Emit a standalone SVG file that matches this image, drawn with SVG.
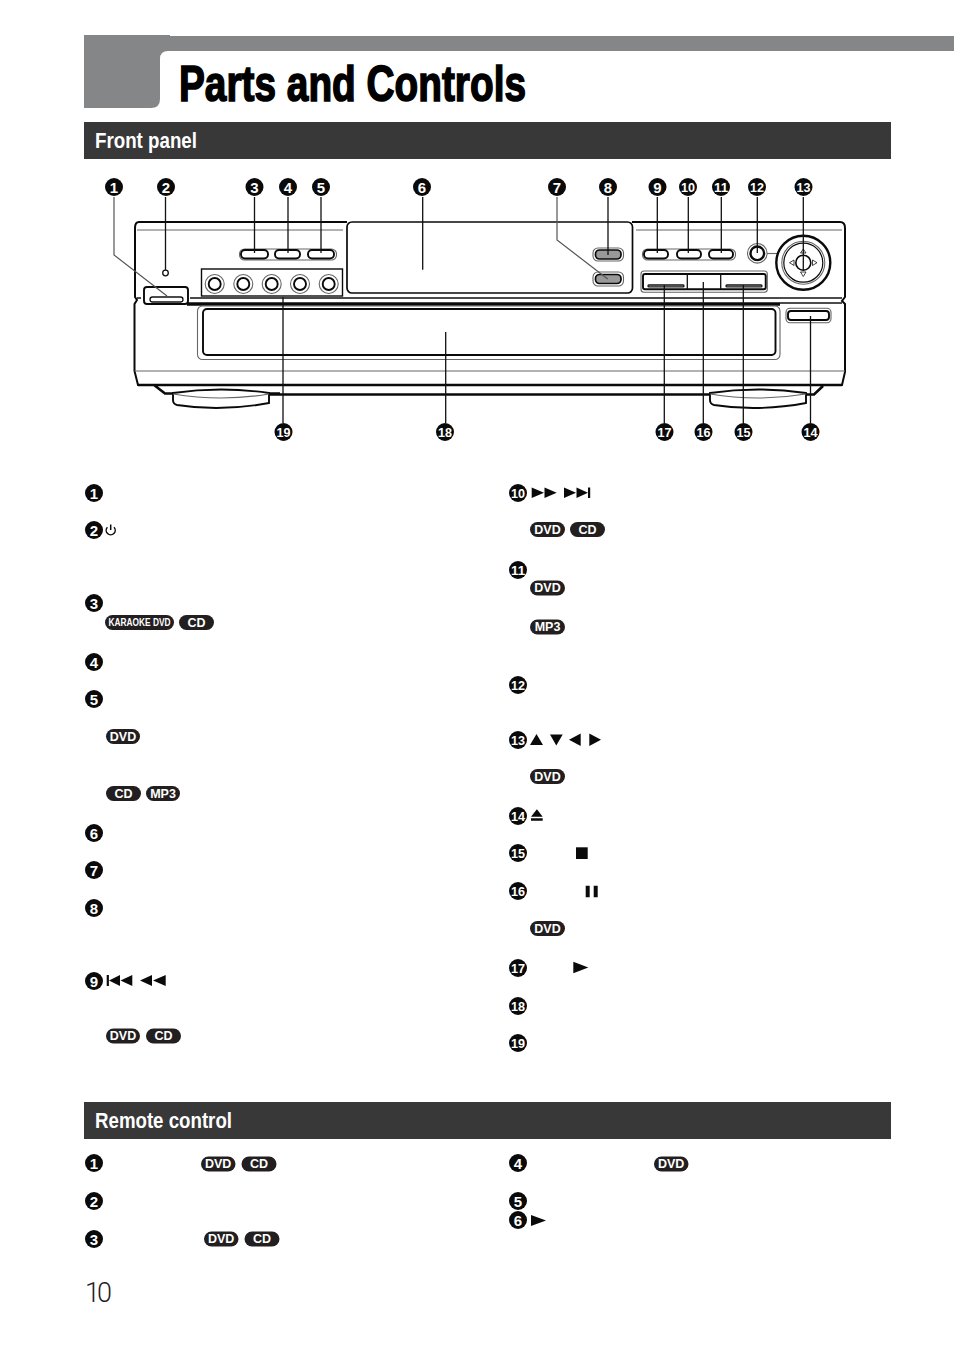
<svg xmlns="http://www.w3.org/2000/svg" width="954" height="1346" viewBox="0 0 954 1346">
<style>
text{font-family:"Liberation Sans",Arial,sans-serif}
.bg circle{fill:#0a0a0a}
.bg text{fill:#fff;font-weight:700;font-size:15px;text-anchor:middle}
.bg .w{font-size:13px}
.p rect{fill:#231f20}
.p text{fill:#fff;font-weight:700;font-size:12.500px;text-anchor:middle}
.h{fill:#fff;font-weight:700;font-size:22px}
.l{fill:none;stroke:#111;stroke-width:1.300}
.g{fill:none;stroke:#666;stroke-width:1.100}
.k{fill:none;stroke:#0a0a0a;stroke-width:2}
.t{fill:none;stroke:#0a0a0a;stroke-width:2.600}
.s{fill:#0a0a0a}
.w2{fill:#fff;stroke:#0a0a0a;stroke-width:1.900}
.wg{fill:#fff;stroke:#666;stroke-width:1.100}
</style>
<rect width="954" height="1346" fill="#fff"/>

<g id="title">
<path d="M84 35H170V36H954V51H168Q160 51 160 59V99Q160 108 151 108H84Z" fill="#858688"/>
<text x="179" y="101" font-size="50" font-weight="700" stroke="#000" stroke-width="1.600" textLength="347" lengthAdjust="spacingAndGlyphs">Parts and Controls</text>
</g>
<g id="front-panel-bar">
<rect x="84" y="122" width="807" height="37" fill="#383838"/>
<text class="h" x="95" y="148" textLength="102" lengthAdjust="spacingAndGlyphs">Front panel</text>
</g>
<g id="remote-control-bar">
<rect x="84" y="1102" width="807" height="37" fill="#383838"/>
<text class="h" x="95" y="1128" textLength="137" lengthAdjust="spacingAndGlyphs">Remote control</text>
</g>

<g id="device">
<path class="k" d="M347 222H139Q135 222 135 228V297L137 300L134.500 304V371L138 385H842L845 372V304L842 301L845 297V228Q845 222 840 222H632"/>
<path class="g" d="M137 230H343M636 230H842M134.500 371H845"/>
<path class="l" d="M190 298H842M137 298H141"/>
<path d="M187 304H780" stroke="#0a0a0a" stroke-width="3.600" fill="none"/>
<path class="l" d="M780 303H842"/>
<path class="t" d="M138 385H842M154 385L165 393.500H280M269 394.500H710M806 394.500H814L823 386"/>
<rect x="347" y="222" width="285.500" height="71" rx="5" fill="#fff" stroke="#0a0a0a" stroke-width="1.700"/>
<rect class="wg" x="197.500" y="306" width="582.500" height="53.500" rx="5"/>
<rect class="w2" x="203" y="309" width="572.500" height="46" rx="4"/>
<g id="foot-left"><path d="M173 393Q221 386 269 393V403Q221 412 177 405Q173 404 173 400Z" fill="#fff" stroke="#0a0a0a" stroke-width="1.900"/><path class="g" d="M173 394Q221 402 269 394"/></g>
<g id="foot-right"><path d="M710 393Q758 386 806 393V403Q758 412 714 405Q710 404 710 400Z" fill="#fff" stroke="#0a0a0a" stroke-width="1.900"/><path class="g" d="M710 394Q758 402 806 394"/></g>
<rect class="w2" x="144" y="287" width="44" height="17" rx="3"/>
<rect class="l" x="150" y="297" width="33" height="5" rx="2.500"/>
<circle class="l" cx="165.500" cy="273" r="2.800"/>
<rect class="wg" x="239.500" y="249" width="97" height="11" rx="5"/>
<rect class="w2" x="241" y="250" width="27" height="8.500" rx="4"/>
<rect class="w2" x="275" y="250" width="25" height="8.500" rx="4"/>
<rect class="w2" x="308" y="250" width="26" height="8.500" rx="4"/>
<rect fill="#fff" stroke="#0a0a0a" stroke-width="1.400" x="201.500" y="269" width="141" height="27"/>
<g id="knobs">
<circle class="wg" cx="214.700" cy="284" r="9.500"/><circle class="w2" cx="214.700" cy="284" r="6"/>
<circle class="wg" cx="243.300" cy="284" r="9.500"/><circle class="w2" cx="243.300" cy="284" r="6"/>
<circle class="wg" cx="271.700" cy="284" r="9.500"/><circle class="w2" cx="271.700" cy="284" r="6"/>
<circle class="wg" cx="300" cy="284" r="9.500"/><circle class="w2" cx="300" cy="284" r="6"/>
<circle class="wg" cx="328.700" cy="284" r="9.500"/><circle class="w2" cx="328.700" cy="284" r="6"/>
</g>
<rect class="wg" x="593" y="248" width="30.500" height="13" rx="5"/>
<rect x="595.500" y="250" width="25.500" height="9" rx="4" fill="#999" stroke="#0a0a0a" stroke-width="1.700"/>
<rect class="wg" x="593" y="272" width="30.500" height="14" rx="5"/>
<rect x="595.500" y="274.500" width="25.500" height="9" rx="4" fill="#999" stroke="#0a0a0a" stroke-width="1.700"/>
<rect class="wg" x="642.500" y="249" width="93" height="11" rx="5"/>
<rect class="w2" x="644" y="250" width="24" height="8.500" rx="4"/>
<rect class="w2" x="677" y="250" width="24" height="8.500" rx="4"/>
<rect class="w2" x="709" y="250" width="24" height="8.500" rx="4"/>
<path class="g" d="M767 253.500H778"/>
<circle class="wg" cx="757.300" cy="253.300" r="9.800"/>
<circle cx="757.300" cy="253.300" r="6.800" fill="#fff" stroke="#0a0a0a" stroke-width="2.400"/>
<circle cx="803.300" cy="262.700" r="27" fill="#fff" stroke="#0a0a0a" stroke-width="2.400"/>
<circle class="g" cx="803.300" cy="262.700" r="21.500"/>
<circle cx="803.300" cy="262.700" r="19.500" fill="none" stroke="#0a0a0a" stroke-width="1.200"/>
<circle cx="803.300" cy="262.700" r="7.500" fill="#fff" stroke="#0a0a0a" stroke-width="1.600"/>
<path fill="none" stroke="#111" stroke-width=".8" d="M800.500 253L803.300 249L806 253ZM800.500 272L803.300 276.500L806 272ZM794 260L789.500 262.700L794 265.500ZM812.500 260L817 262.700L812.500 265.500Z"/>
<rect class="wg" x="641" y="271" width="126.300" height="21.300" rx="3"/>
<rect class="w2" x="643" y="274" width="122.700" height="15.300" rx="2"/>
<path class="l" d="M687.300 274V289.300M720.700 274V289.300"/>
<rect class="l" x="648" y="285" width="36" height="1.800" rx=".9"/>
<rect class="l" x="726" y="285" width="36" height="1.800" rx=".9"/>
<rect class="wg" x="786" y="308.300" width="45" height="14.400" rx="4"/>
<rect class="w2" x="788" y="311" width="41" height="9" rx="3"/>
</g>

<g id="connectors">
<path fill="none" stroke="#555" stroke-width="1.200" d="M114 197V255L167 296"/>
<path fill="none" stroke="#555" stroke-width="1.200" d="M557 197V240L607.700 279"/>
<path class="l" d="M165.500 197V270M254.500 197V253M288 197V253M321 197V253M422.700 197V269.700M608 197V255M657.300 197V253M688.300 197V253M721.300 197V253M757.300 197V253M803.300 197V270M810.500 423V316M743.300 423V285M703.300 423V282M664.300 423V285M445.700 332V423M283 297V423"/>
</g>

<g id="callouts">
<g class="bg" id="c1" transform="translate(114 187)"><circle r="9"/><text y="5.500">1</text></g>
<g class="bg" id="c2" transform="translate(166 187)"><circle r="9"/><text y="5.500">2</text></g>
<g class="bg" id="c3" transform="translate(254.500 187)"><circle r="9"/><text y="5.500">3</text></g>
<g class="bg" id="c4" transform="translate(288 187)"><circle r="9"/><text y="5.500">4</text></g>
<g class="bg" id="c5" transform="translate(321 187)"><circle r="9"/><text y="5.500">5</text></g>
<g class="bg" id="c6" transform="translate(422 187)"><circle r="9"/><text y="5.500">6</text></g>
<g class="bg" id="c7" transform="translate(557 187)"><circle r="9"/><text y="5.500">7</text></g>
<g class="bg" id="c8" transform="translate(608 187)"><circle r="9"/><text y="5.500">8</text></g>
<g class="bg" id="c9" transform="translate(657.500 187)"><circle r="9"/><text y="5.500">9</text></g>
<g class="bg" id="c10" transform="translate(688 187)"><circle r="9"/><text class="w" y="4.800" textLength="14" lengthAdjust="spacingAndGlyphs">10</text></g>
<g class="bg" id="c11" transform="translate(721 187)"><circle r="9"/><text class="w" y="4.800" textLength="14" lengthAdjust="spacingAndGlyphs">11</text></g>
<g class="bg" id="c12" transform="translate(757 187)"><circle r="9"/><text class="w" y="4.800" textLength="14" lengthAdjust="spacingAndGlyphs">12</text></g>
<g class="bg" id="c13" transform="translate(803.500 187)"><circle r="9"/><text class="w" y="4.800" textLength="14" lengthAdjust="spacingAndGlyphs">13</text></g>
<g class="bg" id="c14" transform="translate(810.500 432)"><circle r="9"/><text class="w" y="4.800" textLength="14" lengthAdjust="spacingAndGlyphs">14</text></g>
<g class="bg" id="c15" transform="translate(743.500 432)"><circle r="9"/><text class="w" y="4.800" textLength="14" lengthAdjust="spacingAndGlyphs">15</text></g>
<g class="bg" id="c16" transform="translate(703.500 432)"><circle r="9"/><text class="w" y="4.800" textLength="14" lengthAdjust="spacingAndGlyphs">16</text></g>
<g class="bg" id="c17" transform="translate(664.500 432)"><circle r="9"/><text class="w" y="4.800" textLength="14" lengthAdjust="spacingAndGlyphs">17</text></g>
<g class="bg" id="c18" transform="translate(445 432)"><circle r="9"/><text class="w" y="4.800" textLength="14" lengthAdjust="spacingAndGlyphs">18</text></g>
<g class="bg" id="c19" transform="translate(283.500 432)"><circle r="9"/><text class="w" y="4.800" textLength="14" lengthAdjust="spacingAndGlyphs">19</text></g>
</g>

<g id="list-front-left">
<g class="bg" transform="translate(94 493)"><circle r="9"/><text y="5.500">1</text></g>
<g class="bg" transform="translate(94 530)"><circle r="9"/><text y="5.500">2</text></g>
<g class="bg" transform="translate(94 603)"><circle r="9"/><text y="5.500">3</text></g>
<g class="bg" transform="translate(94 662)"><circle r="9"/><text y="5.500">4</text></g>
<g class="bg" transform="translate(94 699)"><circle r="9"/><text y="5.500">5</text></g>
<g class="bg" transform="translate(94 833)"><circle r="9"/><text y="5.500">6</text></g>
<g class="bg" transform="translate(94 870)"><circle r="9"/><text y="5.500">7</text></g>
<g class="bg" transform="translate(94 908)"><circle r="9"/><text y="5.500">8</text></g>
<g class="bg" transform="translate(94 981)"><circle r="9"/><text y="5.500">9</text></g>
<path d="M107.400 527.200A4.500 4.500 0 1 0 114 527.200M110.700 524.500V530" fill="none" stroke="#0a0a0a" stroke-width="1.500"/>
<path class="s" d="M106.700 975H108.900V986H106.700ZM109 980.500L120 975V986ZM120.500 980.500L132.300 975V986ZM140 980.500L152 975V986ZM153 980.500L165.700 975V986Z"/>
<g class="p" transform="translate(105 615)"><rect width="69" height="15" rx="7.500"/><text x="34.500" y="11" style="font-size:10px" textLength="62" lengthAdjust="spacingAndGlyphs">KARAOKE DVD</text></g>
<g class="p" transform="translate(179 615)"><rect width="35" height="15" rx="7.500"/><text x="17.500" y="11.500">CD</text></g>
<g class="p" transform="translate(106 729)"><rect width="34" height="15" rx="7.500"/><text x="17" y="11.500">DVD</text></g>
<g class="p" transform="translate(106 786)"><rect width="35" height="15" rx="7.500"/><text x="17.500" y="11.500">CD</text></g>
<g class="p" transform="translate(146 786)"><rect width="34" height="15" rx="7.500"/><text x="17" y="11.500">MP3</text></g>
<g class="p" transform="translate(106 1028.500)"><rect width="34" height="15" rx="7.500"/><text x="17" y="11.500">DVD</text></g>
<g class="p" transform="translate(146 1028.500)"><rect width="35" height="15" rx="7.500"/><text x="17.500" y="11.500">CD</text></g>
</g>

<g id="list-front-right">
<g class="bg" transform="translate(518 493)"><circle r="9"/><text class="w" y="4.800" textLength="14" lengthAdjust="spacingAndGlyphs">10</text></g>
<g class="bg" transform="translate(518 570)"><circle r="9"/><text class="w" y="4.800" textLength="14" lengthAdjust="spacingAndGlyphs">11</text></g>
<g class="bg" transform="translate(518 685)"><circle r="9"/><text class="w" y="4.800" textLength="14" lengthAdjust="spacingAndGlyphs">12</text></g>
<g class="bg" transform="translate(518 740)"><circle r="9"/><text class="w" y="4.800" textLength="14" lengthAdjust="spacingAndGlyphs">13</text></g>
<g class="bg" transform="translate(518 816)"><circle r="9"/><text class="w" y="4.800" textLength="14" lengthAdjust="spacingAndGlyphs">14</text></g>
<g class="bg" transform="translate(518 853)"><circle r="9"/><text class="w" y="4.800" textLength="14" lengthAdjust="spacingAndGlyphs">15</text></g>
<g class="bg" transform="translate(518 891)"><circle r="9"/><text class="w" y="4.800" textLength="14" lengthAdjust="spacingAndGlyphs">16</text></g>
<g class="bg" transform="translate(518 968)"><circle r="9"/><text class="w" y="4.800" textLength="14" lengthAdjust="spacingAndGlyphs">17</text></g>
<g class="bg" transform="translate(518 1006)"><circle r="9"/><text class="w" y="4.800" textLength="14" lengthAdjust="spacingAndGlyphs">18</text></g>
<g class="bg" transform="translate(518 1043)"><circle r="9"/><text class="w" y="4.800" textLength="14" lengthAdjust="spacingAndGlyphs">19</text></g>
<path class="s" d="M531.700 487.500V498L544 492.700ZM544.500 487.500V498L556.700 492.700ZM564 487.500V498L576 492.700ZM576.500 487.500V498L588 492.700ZM588 487.500H590.200V498H588Z"/>
<path class="s" d="M530 745L536.500 734L543 745ZM550 734.500H562.700L556.300 745.500ZM580.700 733.500V746L569 739.700ZM589.300 733.500V746L601 739.700Z"/>
<path class="s" d="M531 816.700L536.900 809.300L542.700 816.700ZM531 818.300H542.700V820.700H531Z"/>
<rect class="s" x="576" y="847.300" width="11.700" height="11.700"/>
<path class="s" d="M585.700 885.700H589.700V897.300H585.700ZM593.700 885.700H597.700V897.300H593.700Z"/>
<path class="s" d="M573.300 961.700V973.300L588.300 967.500Z"/>
<g class="p" transform="translate(530 522)"><rect width="35" height="15" rx="7.500"/><text x="17.500" y="11.500">DVD</text></g>
<g class="p" transform="translate(570 522)"><rect width="35" height="15" rx="7.500"/><text x="17.500" y="11.500">CD</text></g>
<g class="p" transform="translate(530 580.500)"><rect width="35" height="15" rx="7.500"/><text x="17.500" y="11.500">DVD</text></g>
<g class="p" transform="translate(530 619.500)"><rect width="35" height="15" rx="7.500"/><text x="17.500" y="11.500">MP3</text></g>
<g class="p" transform="translate(530 769)"><rect width="35" height="15" rx="7.500"/><text x="17.500" y="11.500">DVD</text></g>
<g class="p" transform="translate(530 921)"><rect width="35" height="15" rx="7.500"/><text x="17.500" y="11.500">DVD</text></g>
</g>

<g id="list-remote">
<g class="bg" transform="translate(94 1163)"><circle r="9"/><text y="5.500">1</text></g>
<g class="bg" transform="translate(94 1201)"><circle r="9"/><text y="5.500">2</text></g>
<g class="bg" transform="translate(94 1239)"><circle r="9"/><text y="5.500">3</text></g>
<g class="bg" transform="translate(518 1163)"><circle r="9"/><text y="5.500">4</text></g>
<g class="bg" transform="translate(518 1201)"><circle r="9"/><text y="5.500">5</text></g>
<g class="bg" transform="translate(518 1220)"><circle r="9"/><text y="5.500">6</text></g>
<path class="s" d="M531 1215V1226L546 1220.500Z"/>
<g class="p" transform="translate(201 1156.500)"><rect width="34.500" height="15" rx="7.500"/><text x="17.200" y="11.500">DVD</text></g>
<g class="p" transform="translate(241.500 1156.500)"><rect width="35" height="15" rx="7.500"/><text x="17.500" y="11.500">CD</text></g>
<g class="p" transform="translate(204 1231.500)"><rect width="34.500" height="15" rx="7.500"/><text x="17.200" y="11.500">DVD</text></g>
<g class="p" transform="translate(244.500 1231.500)"><rect width="35" height="15" rx="7.500"/><text x="17.500" y="11.500">CD</text></g>
<g class="p" transform="translate(654 1156.500)"><rect width="34.500" height="15" rx="7.500"/><text x="17.200" y="11.500">DVD</text></g>
</g>

<text id="page-number" x="85" y="1302" font-size="27" style="font-family:Roboto,'Liberation Sans',sans-serif;font-weight:300" fill="#222" textLength="27">10</text>
</svg>
